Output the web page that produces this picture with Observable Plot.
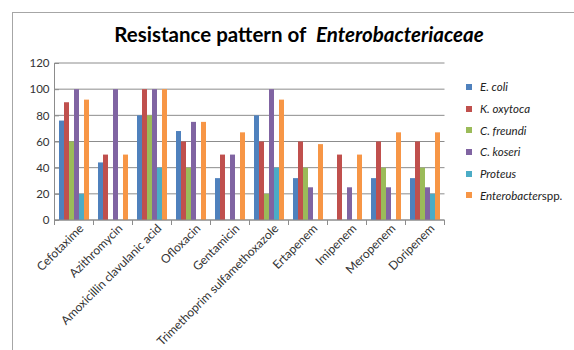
<!DOCTYPE html>
<html><head><meta charset="utf-8">
<script src="https://cdn.jsdelivr.net/npm/d3@7"></script>
<script src="https://cdn.jsdelivr.net/npm/@observablehq/plot@0.6"></script>
<style>
html,body{margin:0;padding:0;background:#fff}
body{width:574px;height:350px;overflow:hidden;position:relative;font-family:Lato,"Open Sans",sans-serif}
#border{position:absolute;left:12px;top:12px;width:800px;height:600px;border:1px solid #a6a6a6;box-sizing:border-box}
#title{position:absolute;top:22px;left:24px;width:550px;text-align:center;font-size:20.5px;line-height:24px;font-weight:bold;color:#000;white-space:pre}
#chart{position:absolute;left:0;top:0}
#legend{position:absolute;left:466px;top:76px;font-size:11.5px;color:#222}
.li{height:21.7px;display:flex;align-items:center;white-space:nowrap}
.sw{width:6px;height:6px;margin-right:8px;flex:none}
</style></head>
<body>
<div id="border"></div>
<div id="title">Resistance pattern of  <i>Enterobacteriaceae</i></div>
<div id="chart"></div>
<div id="legend"></div>
<script>
const categories = ["Cefotaxime","Azithromycin","Amoxicillin clavulanic acid","Ofloxacin","Gentamicin","Trimethoprim sulfamethoxazole","Ertapenem","Imipenem","Meropenem","Doripenem"];
const series = ["E. coli","K. oxytoca","C. freundi","C. koseri","Proteus","Enterobacter spp."];
const colors = ["#4F81BD","#C0504D","#9BBB59","#8064A2","#4BACC6","#F79646"];
const eColi       = [76, 44, 80, 68, 32, 80, 32, 0, 32, 32];
const kOxytoca    = [90, 50, 100, 60, 50, 60, 60, 50, 60, 60];
const cFreundi    = [60, 0, 80, 40, 0, 20, 40, 0, 40, 40];
const cKoseri     = [100, 100, 100, 75, 50, 100, 25, 25, 25, 25];
const proteus     = [20, 0, 40, 0, 0, 40, 0, 0, 0, 20];
const enterobacter= [92, 50, 100, 75, 67, 92, 58, 50, 67, 67];
const yTicks = [0,20,40,60,80,100,120];

const seriesValues = [eColi,kOxytoca,cFreundi,cKoseri,proteus,enterobacter];
const data = [];
categories.forEach((c,i)=>series.forEach((s,j)=>data.push({category:c,series:s,value:seriesValues[j][i]})));

const chart = Plot.plot({
  width:574, height:350,
  marginLeft:51, marginRight:125, marginTop:63, marginBottom:130,
  style:{fontFamily:"Lato, 'Open Sans', sans-serif", fontSize:"11px", color:"#333", background:"transparent"},
  fx:{domain:categories, paddingInner:0.22, paddingOuter:0.11, label:null, axis:null},
  x:{domain:series, padding:0, axis:null},
  y:{domain:[0,120], ticks:yTicks, label:null},
  color:{domain:series, range:colors},
  marks:[
    Plot.barY(data, {fx:"category", x:"series", y:"value", fill:"series"}),
    Plot.axisY({ticks:yTicks, tickSize:4, tickPadding:6, stroke:"#8c8c8c", label:null, fontSize:11.5}),
    Plot.axisFx({anchor:"bottom", tickRotate:-45, tickSize:0, tickPadding:5, dx:7, dy:1, fontSize:12, label:null})
  ]
});
document.getElementById("chart").appendChild(chart);

// gridlines, axis lines and category boundary ticks derived from the scales
const fx = chart.scale("fx"), y = chart.scale("y");
const svg = d3.select(chart);
const bw = fx.bandwidth, step = fx.step;
const bounds = categories.map(c => fx.apply(c) - (step-bw)/2);
bounds.push(fx.apply(categories[categories.length-1]) + bw + (step-bw)/2);
const xL = bounds[0], xR = bounds[bounds.length-1];
const y0 = y.apply(0), yTop = y.apply(120);
const grid = svg.insert("g", ":first-child").attr("stroke","#8c8c8c").attr("stroke-width",1);
yTicks.forEach(t => grid.append("line").attr("x1",xL).attr("x2",xR).attr("y1",y.apply(t)).attr("y2",y.apply(t)));
const g = svg.append("g").attr("stroke","#8c8c8c").attr("stroke-width",1);
g.append("line").attr("x1",xL).attr("x2",xL).attr("y1",yTop).attr("y2",y0);
g.append("line").attr("x1",xL).attr("x2",xR).attr("y1",y0).attr("y2",y0);
bounds.forEach(b=>g.append("line").attr("x1",b).attr("x2",b).attr("y1",y0).attr("y2",y0+5));

const lg = d3.select("#legend");
series.forEach((s,j)=>{
  const it = lg.append("div").attr("class","li");
  it.append("div").attr("class","sw").style("background",colors[j]);
  const t = it.append("span");
  if (s.endsWith(" spp.")) { t.append("i").text(s.replace(" spp.","")); t.append("span").text("spp."); }
  else t.append("i").text(s);
});
</script>
</body></html>
